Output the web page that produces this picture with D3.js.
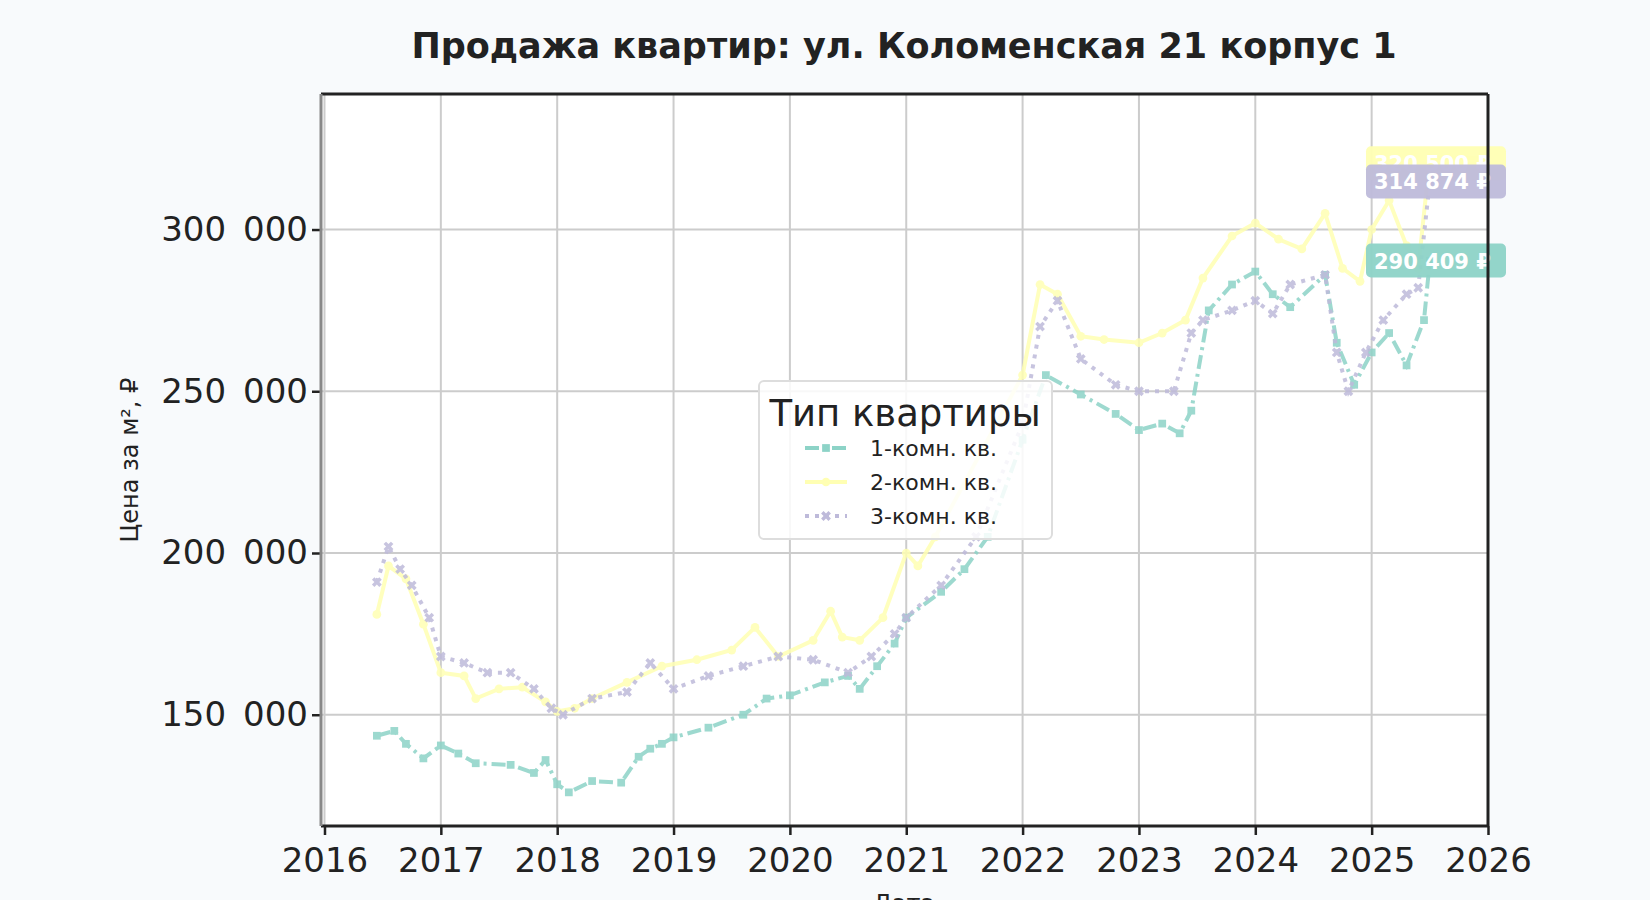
<!DOCTYPE html>
<html><head><meta charset="utf-8">
<script src="https://cdn.jsdelivr.net/npm/d3@7"></script>
<style>body{margin:0;background:#f8fafc;font-family:"DejaVu Sans",sans-serif}</style>
</head><body><svg id="c" width="1650" height="900"></svg>
<script>
const seriesNames = ['1-комн. кв.', '2-комн. кв.', '3-комн. кв.'];
const colors = ['#8dd3c7', '#ffffb3', '#bebada'];
const t1 = [2016.45,2016.6,2016.7,2016.85,2017.0,2017.15,2017.3,2017.6,2017.8,2017.9,2018.0,2018.1,2018.3,2018.55,2018.7,2018.8,2018.9,2019.0,2019.3,2019.6,2019.8,2020.0,2020.3,2020.5,2020.6,2020.75,2020.9,2021.0,2021.3,2021.5,2021.7,2022.0,2022.2,2022.5,2022.8,2023.0,2023.2,2023.35,2023.45,2023.6,2023.8,2024.0,2024.15,2024.3,2024.6,2024.7,2024.85,2025.0,2025.15,2025.3,2025.45,2025.5];
const v1 = [143500,145000,141000,136500,140500,138000,135000,134500,132000,136000,128500,126000,129500,129000,137000,139500,141000,143000,146000,150000,155000,156000,160000,162000,158000,165000,172000,180000,188000,195000,205000,235000,255000,249000,243000,238000,240000,237000,244000,275000,283000,287000,280000,276000,286000,265000,252000,262000,268000,258000,272000,290409];
const t2 = [2016.45,2016.55,2016.7,2016.85,2017.0,2017.2,2017.3,2017.5,2017.7,2017.9,2018.0,2018.15,2018.3,2018.6,2018.9,2019.2,2019.5,2019.7,2019.9,2020.2,2020.35,2020.45,2020.6,2020.8,2021.0,2021.1,2021.25,2022.0,2022.15,2022.3,2022.5,2022.7,2023.0,2023.2,2023.4,2023.55,2023.8,2024.0,2024.2,2024.4,2024.6,2024.75,2024.9,2025.0,2025.15,2025.3,2025.4,2025.5,2026.1];
const v2 = [181000,196000,192000,178000,163000,162000,155000,158000,158500,154000,151000,152000,155000,160000,165000,167000,170000,177000,168000,173000,182000,174000,173000,180000,200000,196000,205000,255000,283000,280000,267000,266000,265000,268000,272000,285000,298000,302000,297000,294000,305000,288000,284000,300000,309000,295000,288000,322000,322150];
const t3 = [2016.45,2016.55,2016.65,2016.75,2016.9,2017.0,2017.2,2017.4,2017.6,2017.8,2017.95,2018.05,2018.3,2018.6,2018.8,2019.0,2019.3,2019.6,2019.9,2020.2,2020.5,2020.7,2020.9,2021.0,2021.3,2021.6,2022.0,2022.15,2022.3,2022.5,2022.8,2023.0,2023.3,2023.45,2023.55,2023.8,2024.0,2024.15,2024.3,2024.6,2024.7,2024.8,2024.95,2025.1,2025.3,2025.4,2025.5];
const v3 = [191000,202000,195000,190000,180000,168000,166000,163000,163000,158000,152000,150000,155000,157000,166000,158000,162000,165000,168000,167000,163000,168000,175000,180000,190000,205000,240000,270000,278000,260000,252000,250000,250000,268000,272000,275000,278000,274000,283000,286000,262000,250000,262000,272000,280000,282000,314874];
const xTicks = [2016,2017,2018,2019,2020,2021,2022,2023,2024,2025,2026];
const yTicks = [150000,200000,250000,300000];
const lastLabels = [[320500, 1], [314874, 2], [290409, 0]];

const svg = d3.select('#c');
const m = {l:321, r:1488, t:94, b:826};
const x = d3.scaleLinear().domain([2015.97, 2026.0]).range([m.l, m.r]);
const y = d3.scaleLinear().domain([115600, 341900]).range([m.b, m.t]);
const fmt = v => d3.format(',')(v).replace(/,/g, ' ');

svg.append('text').attr('x', 904).attr('y', 58).attr('text-anchor', 'middle')
  .attr('font-size', 35).attr('font-weight', 'bold').attr('fill', '#222')
  .text('Продажа квартир: ул. Коломенская 21 корпус 1');

const g = svg.append('g');
g.append('rect').attr('x', m.l).attr('y', m.t).attr('width', m.r - m.l).attr('height', m.b - m.t).attr('fill', '#fff');
xTicks.forEach(t => g.append('line').attr('x1', x(t)).attr('x2', x(t)).attr('y1', m.t).attr('y2', m.b).attr('stroke', '#ccc').attr('stroke-width', 2));
yTicks.forEach(t => g.append('line').attr('x1', m.l).attr('x2', m.r).attr('y1', y(t)).attr('y2', y(t)).attr('stroke', '#ccc').attr('stroke-width', 2));

svg.append('clipPath').attr('id', 'cp').append('rect')
  .attr('x', m.l).attr('y', m.t).attr('width', m.r - m.l).attr('height', m.b - m.t);
const plot = svg.append('g').attr('clip-path', 'url(#cp)');
const data = [d3.zip(t1, v1), d3.zip(t2, v2), d3.zip(t3, v3)];
const dashes = ['14,5,3,5', null, '4,6'];
const syms = [d3.symbolSquare, d3.symbolCircle, d3.symbolCross];
const line = d3.line().x(d => x(d[0])).y(d => y(d[1]));
data.forEach((d, i) => {
  const s = plot.append('g').attr('opacity', 0.85);
  s.append('path').datum(d).attr('d', line).attr('fill', 'none').attr('stroke', colors[i])
    .attr('stroke-width', 4).attr('stroke-dasharray', dashes[i]);
  s.selectAll('path.pt').data(d).join('path').attr('class', 'pt')
    .attr('transform', p => `translate(${x(p[0])},${y(p[1])})${i === 2 ? ' rotate(45)' : ''}`)
    .attr('d', d3.symbol(syms[i], 60)).attr('fill', colors[i]);
});

// last-value labels
lastLabels.forEach(([v, i]) => {
  const lg = svg.append('g').attr('transform', `translate(${1366},${y(v)})`);
  lg.append('rect').attr('x', 0).attr('y', -17).attr('width', 140).attr('height', 34).attr('rx', 5)
    .attr('fill', colors[i]).attr('opacity', 0.95);
  lg.append('text').attr('x', 8).attr('y', 8).attr('font-size', 21).attr('font-weight', 'bold')
    .attr('fill', '#fff').text(fmt(v) + ' ₽');
});

// axes
const xa = svg.append('g').attr('transform', `translate(0,${m.b})`)
  .call(d3.axisBottom(x).tickValues(xTicks).tickFormat(d3.format('d')).tickSize(9));
const ya = svg.append('g').attr('transform', `translate(${m.l},0)`)
  .call(d3.axisLeft(y).tickValues(yTicks).tickFormat(v => fmt(v).replace(' ', '\u2002')).tickSize(9).tickPadding(4));
[xa, ya].forEach(a => {
  a.select('.domain').remove();
  a.selectAll('text').attr('font-size', 34).attr('fill', '#222').attr('font-family', 'DejaVu Sans');
  a.selectAll('line').attr('stroke', '#222').attr('stroke-width', 2.5);
});
xa.selectAll('text').attr('dy', '1.0em');
svg.append('line').attr('x1', m.l).attr('x2', m.r).attr('y1', m.t).attr('y2', m.t).attr('stroke', '#222').attr('stroke-width', 3);
svg.append('line').attr('x1', m.r).attr('x2', m.r).attr('y1', m.t).attr('y2', m.b).attr('stroke', '#222').attr('stroke-width', 3);
svg.append('line').attr('x1', m.l).attr('x2', m.r).attr('y1', m.b).attr('y2', m.b).attr('stroke', '#222').attr('stroke-width', 3);
svg.append('line').attr('x1', m.l).attr('x2', m.l).attr('y1', m.t).attr('y2', m.b).attr('stroke', '#888').attr('stroke-width', 3);

svg.append('text').attr('transform', `translate(138,460) rotate(-90)`).attr('text-anchor', 'middle')
  .attr('font-size', 24).attr('fill', '#222').text('Цена за м², ₽');
svg.append('text').attr('x', 904).attr('y', 912).attr('text-anchor', 'middle')
  .attr('font-size', 24).attr('fill', '#222').text('Дата');

// legend
const L = svg.append('g').attr('transform', 'translate(759,381)');
L.append('rect').attr('width', 293).attr('height', 158).attr('rx', 5).attr('fill', '#fff')
  .attr('fill-opacity', 0.85).attr('stroke', '#ddd').attr('stroke-width', 2);
L.append('text').attr('x', 146).attr('y', 45).attr('text-anchor', 'middle').attr('font-size', 37)
  .attr('fill', '#222').text('Тип квартиры');
seriesNames.forEach((n, i) => {
  const yy = 67 + i * 34;
  L.append('line').attr('x1', 46).attr('x2', 88).attr('y1', yy).attr('y2', yy).attr('stroke', colors[i])
    .attr('stroke-width', 4).attr('stroke-dasharray', dashes[i]);
  L.append('path').attr('transform', `translate(67,${yy})${i === 2 ? ' rotate(45)' : ''}`)
    .attr('d', d3.symbol(syms[i], 60)).attr('fill', colors[i]);
  L.append('text').attr('x', 111).attr('y', yy + 8).attr('font-size', 22).attr('fill', '#222').text(n);
});
</script></body></html>
